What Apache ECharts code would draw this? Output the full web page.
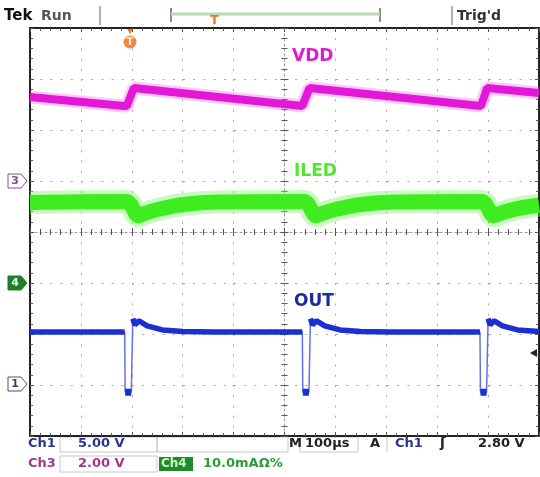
<!DOCTYPE html>
<html><head><meta charset="utf-8">
<script src="https://cdn.jsdelivr.net/npm/echarts@6/dist/echarts.min.js"></script>
<style>html,body{margin:0;padding:0;background:#fff}#c{width:540px;height:477px}</style>
</head><body><div id="c"></div>
<script>
// time axis, microseconds (100 us/div, trigger at 0)
const timeMinUs = -200, timeMaxUs = 800, timeDivUs = 100;
// Ch3 = VDD (2.00 V/div)
const vddTime  = [-200, -10, 4, 335, 349, 686, 698, 800];
const vddVolts = [3.29, 2.93, 3.65, 2.94, 3.65, 2.94, 3.65, 3.45];
// Ch4 = ILED (10.0 mA/div)
const iledTime = [-200, -10, 13, 30, 55, 100, 170, 339, 362, 379, 404, 449, 519, 688, 711, 728, 753, 800];
const iledmA   = [15.8, 16.0, 13.2, 13.8, 14.5, 15.4, 15.9, 16.0, 13.2, 13.8, 14.5, 15.4, 15.9, 16.0, 13.2, 13.8, 14.5, 15.3];
// Ch1 = OUT (5.00 V/div)
const outTime  = [-200, -14, -13, -1, 2, 6, 14, 30, 60, 100, 160,
                  335, 336, 348, 351, 355, 363, 379, 409, 449, 509,
                  684, 685, 697, 700, 704, 712, 728, 758, 800];
const outVolts = [5.2, 5.2, -0.7, -0.7, 6.5, 5.9, 6.3, 5.8, 5.4, 5.25, 5.2,
                  5.2, -0.7, -0.7, 6.5, 5.9, 6.3, 5.8, 5.4, 5.25, 5.2,
                  5.2, -0.7, -0.7, 6.5, 5.9, 6.3, 5.8, 5.4, 5.25];

const zip = (a, b) => a.map((t, i) => [t, b[i]]);
const outAll = zip(outTime, outVolts);
const outHigh = outAll.map(p => p[1] >= 3 ? p : [p[0], null]);
const outLow = outAll.map(p => p[1] < 3 ? p : [p[0], null]);
const vddData = zip(vddTime, vddVolts);
const iledData = zip(iledTime, iledmA);

const chart = echarts.init(document.getElementById('c'), null, {renderer: 'canvas'});
const F = '"DejaVu Sans", sans-serif';
const border = {color: '#222', width: 2};
const dots = {color: '#a8a8a8', width: 1, type: [2, 8.2]};
const tickStyle = {color: '#555', width: 1};

chart.setOption({
  animation: false,
  backgroundColor: '#fff',
  grid: {left: 30, right: 1, top: 28, bottom: 41, containLabel: false},
  xAxis: [
    {type: 'value', min: timeMinUs, max: timeMaxUs, interval: timeDivUs, position: 'bottom',
     axisLine: {onZero: false, lineStyle: border},
     axisTick: {show: true, inside: true, length: 4, lineStyle: tickStyle},
     minorTick: {show: true, splitNumber: 5, length: 3, lineStyle: tickStyle},
     axisLabel: {show: false}, splitLine: {show: true, lineStyle: dots}},
    {type: 'value', min: timeMinUs, max: timeMaxUs, interval: timeDivUs, position: 'top',
     axisLine: {onZero: false, lineStyle: border},
     axisTick: {show: true, inside: true, length: 4, lineStyle: tickStyle},
     minorTick: {show: true, splitNumber: 5, length: 3, lineStyle: tickStyle},
     axisLabel: {show: false}, splitLine: {show: false}},
    {type: 'value', min: -5, max: 5, show: false, axisLine: {onZero: false}},
    {type: 'value', min: -5, max: 5, interval: 1, position: 'bottom',
     axisLine: {onZero: true, onZeroAxisIndex: 3, lineStyle: {color: '#999', width: 1, type: [2, 3]}},
     axisTick: {show: true, inside: true, length: 4, lineStyle: tickStyle},
     minorTick: {show: true, splitNumber: 5, length: 3, lineStyle: tickStyle},
     axisLabel: {show: false}, splitLine: {show: false}},
    {type: 'value', min: -5, max: 5, interval: 1, position: 'bottom',
     axisLine: {show: false, onZero: true, onZeroAxisIndex: 3},
     axisTick: {show: true, inside: false, length: 4, lineStyle: tickStyle},
     minorTick: {show: true, splitNumber: 5, length: 3, lineStyle: tickStyle},
     axisLabel: {show: false}, splitLine: {show: false}}
  ],
  yAxis: [
    {type: 'value', min: -10, max: 6, show: false, axisLine: {onZero: false}},
    {type: 'value', min: -30, max: 50, show: false, axisLine: {onZero: false}},
    {type: 'value', min: -5, max: 35, show: false, axisLine: {onZero: false}},
    {type: 'value', min: -4, max: 4, interval: 1, position: 'left',
     axisLine: {onZero: false, lineStyle: border},
     axisTick: {show: true, inside: true, length: 4, lineStyle: tickStyle},
     minorTick: {show: true, splitNumber: 5, length: 3, lineStyle: tickStyle},
     axisLabel: {show: false}, splitLine: {show: true, lineStyle: dots}},
    {type: 'value', min: -4, max: 4, interval: 1, position: 'right',
     axisLine: {onZero: false, lineStyle: border},
     axisTick: {show: true, inside: true, length: 4, lineStyle: tickStyle},
     minorTick: {show: true, splitNumber: 5, length: 3, lineStyle: tickStyle},
     axisLabel: {show: false}, splitLine: {show: false}},
    {type: 'value', min: -4, max: 4, interval: 1, position: 'left',
     axisLine: {onZero: true, onZeroAxisIndex: 2, lineStyle: {color: '#999', width: 1, type: [2, 3]}},
     axisTick: {show: true, inside: true, length: 4, lineStyle: tickStyle},
     minorTick: {show: true, splitNumber: 5, length: 3, lineStyle: tickStyle},
     axisLabel: {show: false}, splitLine: {show: false}},
    {type: 'value', min: -4, max: 4, interval: 1, position: 'left',
     axisLine: {show: false, onZero: true, onZeroAxisIndex: 2},
     axisTick: {show: true, inside: false, length: 4, lineStyle: tickStyle},
     minorTick: {show: true, splitNumber: 5, length: 3, lineStyle: tickStyle},
     axisLabel: {show: false}, splitLine: {show: false}}
  ],
  series: [
    {name: 'VDD halo', type: 'line', xAxisIndex: 0, yAxisIndex: 0, data: vddData,
     showSymbol: false, silent: true, lineStyle: {color: '#ee66e4', width: 13, opacity: 0.35}},
    {name: 'VDD', type: 'line', xAxisIndex: 0, yAxisIndex: 0, data: vddData,
     showSymbol: false, silent: true, lineStyle: {color: '#e318d6', width: 8}},
    {name: 'ILED halo', type: 'line', xAxisIndex: 0, yAxisIndex: 1, data: iledData,
     showSymbol: false, silent: true, smooth: 0.3, lineStyle: {color: '#7af266', width: 23, opacity: 0.4}},
    {name: 'ILED', type: 'line', xAxisIndex: 0, yAxisIndex: 1, data: iledData,
     showSymbol: false, silent: true, smooth: 0.3, lineStyle: {color: '#3fec1f', width: 15}},
    {name: 'OUT', type: 'line', xAxisIndex: 0, yAxisIndex: 2, data: outAll,
     showSymbol: false, silent: true, lineStyle: {color: '#6272e6', width: 1.5}},
    {name: 'OUT', type: 'line', xAxisIndex: 0, yAxisIndex: 2, data: outHigh, connectNulls: false,
     showSymbol: false, silent: true, lineStyle: {color: '#1b2fd2', width: 5.5}},
    {name: 'OUT', type: 'line', xAxisIndex: 0, yAxisIndex: 2, data: outLow, connectNulls: false,
     showSymbol: false, silent: true, lineStyle: {color: '#1b2fd2', width: 7}}
  ],
  graphic: [
    // top status bar
    {type: 'text', left: 4, top: 9, style: {text: 'Tek', fill: '#111', font: 'bold 15px ' + F}},
    {type: 'text', left: 41, top: 9, style: {text: 'Run', fill: '#555', font: 'bold 14px ' + F}},
    {type: 'line', shape: {x1: 100, y1: 6, x2: 100, y2: 25}, style: {stroke: '#999', lineWidth: 1.5}},
    {type: 'line', shape: {x1: 171, y1: 8, x2: 171, y2: 22}, style: {stroke: '#666', lineWidth: 1.5}},
    {type: 'line', shape: {x1: 380, y1: 8, x2: 380, y2: 22}, style: {stroke: '#666', lineWidth: 1.5}},
    {type: 'line', shape: {x1: 171, y1: 14, x2: 380, y2: 14}, style: {stroke: '#bcd6b8', lineWidth: 3}},
    {type: 'line', shape: {x1: 452, y1: 6, x2: 452, y2: 25}, style: {stroke: '#999', lineWidth: 1.5}},
    {type: 'text', left: 210, top: 14, style: {text: 'T', fill: '#ef7a2a', font: 'bold 13px ' + F, align: 'center', verticalAlign: 'middle'}},
    {type: 'text', left: 457, top: 9, style: {text: "Trig'd", fill: '#333', font: 'bold 14px ' + F}},
    // trigger position marker
    {type: 'polygon', shape: {points: [[127, 29], [133, 29], [130, 34]]}, style: {fill: '#ef7a2a'}},
    {type: 'circle', shape: {cx: 130, cy: 42, r: 6.5}, style: {fill: '#f08a44'}},
    {type: 'text', x: 130, y: 42, style: {text: 'T', fill: '#fff3e6', font: 'bold 10px ' + F, align: 'center', verticalAlign: 'middle'}},
    // trace labels
    {type: 'text', left: 292, top: 48, style: {text: 'VDD', fill: '#df1ad2', font: 'bold 17px ' + F}},
    {type: 'text', left: 294, top: 163, style: {text: 'ILED', fill: '#52e633', font: 'bold 17px ' + F}},
    {type: 'text', left: 294, top: 293, style: {text: 'OUT', fill: '#1a2aa0', font: 'bold 17px ' + F}},
    // channel ground markers
    {type: 'polygon', shape: {points: [[8, 174], [21, 174], [27, 181], [21, 188], [8, 188]]}, style: {fill: '#fff', stroke: '#8a4a92', lineWidth: 1}},
    {type: 'text', x: 15, y: 181, style: {text: '3', fill: '#8a4a92', font: 'bold 11px ' + F, align: 'center', verticalAlign: 'middle'}},
    {type: 'polygon', shape: {points: [[8, 276], [21, 276], [27, 283], [21, 290], [8, 290]]}, style: {fill: '#1d7f2a', stroke: '#1d7f2a', lineWidth: 1}},
    {type: 'text', x: 15, y: 283, style: {text: '4', fill: '#e6ffe6', font: 'bold 11px ' + F, align: 'center', verticalAlign: 'middle'}},
    {type: 'polygon', shape: {points: [[8, 377], [21, 377], [27, 384], [21, 391], [8, 391]]}, style: {fill: '#fff', stroke: '#4a4f7a', lineWidth: 1}},
    {type: 'text', x: 15, y: 384, style: {text: '1', fill: '#3a3f70', font: 'bold 11px ' + F, align: 'center', verticalAlign: 'middle'}},
    // trigger level marker
    {type: 'polygon', shape: {points: [[530, 353], [537, 349], [537, 357]]}, style: {fill: '#222'}},
    // bottom readout boxes
    {type: 'rect', shape: {x: 60, y: 437, width: 97, height: 15}, style: {fill: 'none', stroke: '#c8c8c8', lineWidth: 1}},
    {type: 'rect', shape: {x: 157, y: 437, width: 131, height: 15}, style: {fill: 'none', stroke: '#c8c8c8', lineWidth: 1}},
    {type: 'rect', shape: {x: 300, y: 437, width: 58, height: 15}, style: {fill: 'none', stroke: '#c8c8c8', lineWidth: 1}},
    {type: 'line', shape: {x1: 387, y1: 437, x2: 387, y2: 452}, style: {stroke: '#c8c8c8', lineWidth: 1}},
    {type: 'rect', shape: {x: 60, y: 456, width: 97, height: 16}, style: {fill: 'none', stroke: '#c8c8c8', lineWidth: 1}},
    {type: 'rect', shape: {x: 159, y: 457, width: 34, height: 14}, style: {fill: '#1f8a2c'}},
    // bottom readout texts
    {type: 'text', left: 28, top: 437, style: {text: 'Ch1', fill: '#2a3590', font: 'bold 13px ' + F}},
    {type: 'text', left: 78, top: 437, style: {text: '5.00 V', fill: '#2a3590', font: 'bold 13px ' + F}},
    {type: 'text', left: 289, top: 437, style: {text: 'M', fill: '#222', font: 'bold 13px ' + F}},
    {type: 'text', left: 305, top: 437, style: {text: '100µs', fill: '#222', font: 'bold 13px ' + F}},
    {type: 'text', left: 370, top: 437, style: {text: 'A', fill: '#222', font: 'bold 13px ' + F}},
    {type: 'text', left: 395, top: 437, style: {text: 'Ch1', fill: '#2a3590', font: 'bold 13px ' + F}},
    {type: 'text', left: 440, top: 436, style: {text: 'ʃ', fill: '#222', font: 'bold 14px ' + F}},
    {type: 'text', left: 478, top: 437, style: {text: '2.80 V', fill: '#222', font: 'bold 13px ' + F}},
    {type: 'text', left: 28, top: 457, style: {text: 'Ch3', fill: '#a2378e', font: 'bold 13px ' + F}},
    {type: 'text', left: 78, top: 457, style: {text: '2.00 V', fill: '#a2378e', font: 'bold 13px ' + F}},
    {type: 'text', left: 161, top: 458, style: {text: 'Ch4', fill: '#c9f5c4', font: 'bold 12px ' + F}},
    {type: 'text', left: 203, top: 457, style: {text: '10.0mAΩ%', fill: '#2c9a3a', font: 'bold 13px ' + F}}
  ]
});
</script>
</body></html>
